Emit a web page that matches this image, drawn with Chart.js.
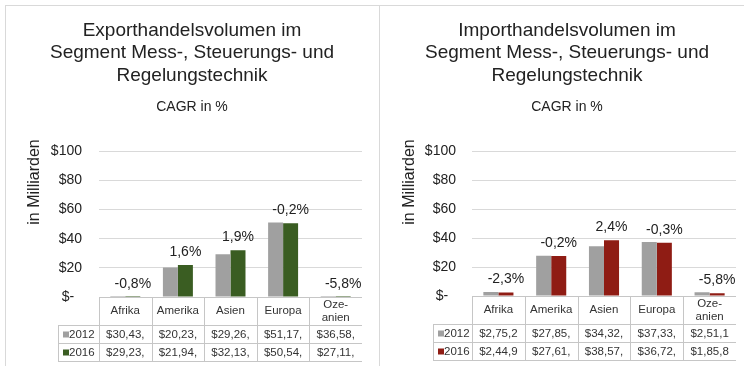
<!DOCTYPE html>
<html>
<head>
<meta charset="utf-8">
<script src="https://cdn.jsdelivr.net/npm/chart.js@4.4.1/dist/chart.umd.min.js"></script>
<style>
  html, body { margin: 0; padding: 0; background: #fff; overflow: hidden; }
  body { width: 744px; height: 366px; position: relative; }
  .panel { position: absolute; top: 5px; height: 400px; border: 1px solid #d9d9d9; box-sizing: border-box; }
  #exportPanel { left: 5px; width: 375px; }
  #importPanel { left: 379px; width: 380px; }
  canvas { position: absolute; top: 0; }
  #exportChart { left: 22px; }
  #importChart { left: 398px; }
</style>
</head>
<body>
<div class="panel" id="exportPanel"></div>
<div class="panel" id="importPanel"></div>
<canvas id="exportChart" width="340" height="366"></canvas>
<canvas id="importChart" width="338" height="366"></canvas>
<script>
// Regions shown on the x axis / table header
const categories = ['Afrika', 'Amerika', 'Asien', 'Europa', ['Oze-', 'anien']];
const years = ['2012', '2016'];

// Export volume, billions USD
const export2012 = [0.0304, 20.23, 29.26, 51.17, 0.0366];
const export2016 = [0.0292, 21.94, 32.13, 50.54, 0.0271];
const exportCagr = ['-0,8%', '1,6%', '1,9%', '-0,2%', '-5,8%'];
const exportTable2012 = ['$30,43,', '$20,23,', '$29,26,', '$51,17,', '$36,58,'];
const exportTable2016 = ['$29,23,', '$21,94,', '$32,13,', '$50,54,', '$27,11,'];

// Import volume, billions USD
const import2012 = [2.752, 27.85, 34.32, 37.33, 2.511];
const import2016 = [2.449, 27.61, 38.57, 36.72, 1.858];
const importCagr = ['-2,3%', '-0,2%', '2,4%', '-0,3%', '-5,8%'];
const importTable2012 = ['$2,75,2', '$27,85,', '$34,32,', '$37,33,', '$2,51,1'];
const importTable2016 = ['$2,44,9', '$27,61,', '$38,57,', '$36,72,', '$1,85,8'];

const yTicks = [0, 20, 40, 60, 80, 100];

const FONT = "'Liberation Sans', Arial, sans-serif";
const GREY = '#a0a0a0';

// CAGR text above each 2016 bar
const cagrLabels = {
  id: 'cagrLabels',
  afterDatasetsDraw(chart, args, opts) {
    const ctx = chart.ctx;
    const meta = chart.getDatasetMeta(1);
    ctx.save();
    ctx.font = '14px ' + FONT;
    ctx.fillStyle = '#222';
    ctx.textAlign = 'center';
    ctx.textBaseline = 'middle';
    meta.data.forEach((bar, i) => {
      ctx.fillText(opts.labels[i], bar.x, bar.y - 13);
    });
    ctx.restore();
  }
};

// Rotated axis title, sits near the top of the plot
const axisTitle = {
  id: 'axisTitle',
  afterDraw(chart, args, opts) {
    const ctx = chart.ctx;
    ctx.save();
    ctx.translate(opts.x, opts.y);
    ctx.rotate(-Math.PI / 2);
    ctx.font = '16px ' + FONT;
    ctx.fillStyle = '#222';
    ctx.textAlign = 'center';
    ctx.textBaseline = 'middle';
    ctx.fillText(opts.text, 0, 0);
    ctx.restore();
  }
};

// Data table under the plot
const dataTable = {
  id: 'dataTable',
  afterDraw(chart, args, opts) {
    const { ctx, chartArea } = chart;
    const labels = chart.data.labels;
    const n = labels.length;
    const colW = (chartArea.right - chartArea.left) / n;
    const top = Math.round(chartArea.bottom);
    const headH = 28, rowH = 18;
    const L = chartArea.left, R = chartArea.right;
    const legL = opts.legendLeft;
    const px = v => Math.round(v) + 0.5;

    ctx.save();
    ctx.strokeStyle = '#c6c6c6';
    ctx.lineWidth = 1;
    ctx.beginPath();
    ctx.moveTo(L, px(top)); ctx.lineTo(R, px(top));
    for (let r = 1; r <= 3; r++) {
      const y = px(top + headH + (r - 1) * rowH);
      ctx.moveTo(legL, y); ctx.lineTo(R, y);
    }
    for (let i = 0; i <= n; i++) {
      const x = px(L + i * colW);
      ctx.moveTo(x, top); ctx.lineTo(x, top + headH + 2 * rowH);
    }
    ctx.moveTo(px(legL), top + headH); ctx.lineTo(px(legL), top + headH + 2 * rowH);
    ctx.stroke();

    ctx.font = '11.5px ' + FONT;
    ctx.fillStyle = '#333';
    ctx.textAlign = 'center';
    ctx.textBaseline = 'middle';
    labels.forEach((lab, i) => {
      const cx = L + (i + 0.5) * colW;
      const lines = Array.isArray(lab) ? lab : [lab];
      const y0 = top + headH / 2 - (lines.length - 1) * 6.5;
      lines.forEach((t, k) => ctx.fillText(t, cx, y0 + k * 13));
    });

    chart.data.datasets.forEach((ds, r) => {
      const cy = top + headH + r * rowH + rowH / 2 + 0.5;
      ctx.fillStyle = ds.backgroundColor;
      ctx.fillRect(legL + 5, cy - 3, 6, 6);
      ctx.fillStyle = '#333';
      ctx.textAlign = 'left';
      ctx.fillText(ds.label, legL + 11, cy);
      ctx.textAlign = 'center';
      opts.rows[r].forEach((t, i) => {
        ctx.fillText(t, L + (i + 0.5) * colW, cy);
      });
    });
    ctx.restore();
  }
};

function buildChart(id, titleLines, v2012, v2016, color2016, cagr, rows, cfg) {
  const ctx = document.getElementById(id).getContext('2d');
  return new Chart(ctx, {
    type: 'bar',
    data: {
      labels: categories,
      datasets: [
        { label: years[0], data: v2012, backgroundColor: GREY },
        { label: years[1], data: v2016, backgroundColor: color2016 }
      ]
    },
    options: {
      responsive: false,
      animation: false,
      devicePixelRatio: 1,
      layout: { padding: { left: 0, right: 0, top: 0, bottom: cfg.bottom } },
      datasets: { bar: { categoryPercentage: 0.57, barPercentage: 1, borderWidth: 0 } },
      scales: {
        x: { display: false },
        y: {
          min: 0,
          max: 100,
          afterBuildTicks: scale => { scale.ticks = yTicks.map(v => ({ value: v })); },
          afterFit: scale => { scale.width = cfg.axisWidth; },
          border: { display: false },
          grid: { color: '#d9d9d9', drawTicks: false },
          ticks: {
            padding: cfg.tickPad,
            color: '#222',
            font: { family: FONT, size: 14 },
            callback: v => v === 0 ? '$-  ' : '$' + v
          }
        }
      },
      plugins: {
        legend: { display: false },
        tooltip: { enabled: false },
        title: {
          display: true,
          text: titleLines,
          color: '#222',
          font: { family: FONT, size: 19, weight: 'normal', lineHeight: 1.2 },
          padding: { top: 19, bottom: 11 }
        },
        subtitle: {
          display: true,
          text: 'CAGR in %',
          color: '#222',
          font: { family: FONT, size: 14, lineHeight: 1.2 },
          padding: { top: 0, bottom: 36 }
        },
        cagrLabels: { labels: cagr },
        axisTitle: { text: 'in Milliarden', x: cfg.titleX, y: 182 },
        dataTable: { legendLeft: cfg.legendLeft, rows: rows }
      }
    },
    plugins: [cagrLabels, axisTitle, dataTable]
  });
}

buildChart('exportChart',
  ['Exporthandelsvolumen im', 'Segment Mess-, Steuerungs- und', 'Regelungstechnik'],
  export2012, export2016, '#3a5d22', exportCagr, [exportTable2012, exportTable2016],
  { axisWidth: 77, tickPad: 17, bottom: 69, titleX: 13, legendLeft: 36 });

buildChart('importChart',
  ['Importhandelsvolumen im', 'Segment Mess-, Steuerungs- und', 'Regelungstechnik'],
  import2012, import2016, '#8f1c14', importCagr, [importTable2012, importTable2016],
  { axisWidth: 74, tickPad: 16, bottom: 70, titleX: 12, legendLeft: 35 });
</script>
</body>
</html>
